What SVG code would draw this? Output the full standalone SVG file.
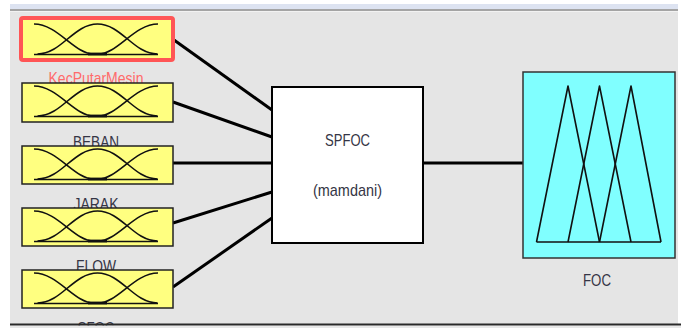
<svg xmlns="http://www.w3.org/2000/svg" xmlns:xlink="http://www.w3.org/1999/xlink" width="681" height="328" viewBox="0 0 681 328">
  <style>
    .panel { fill: #e5e5e5; }
    .inbox { fill: #ffff80; stroke: #222; stroke-width: 1.5; }
    .mf { fill: none; stroke: #111; stroke-width: 1.6; stroke-linejoin: round; }
    .wire { fill: none; stroke: #000; stroke-width: 3; stroke-linecap: butt; }
    .lbl { font-family: "Liberation Sans", Arial, sans-serif; font-size: 17px; fill: #353545; text-anchor: middle; }
    .sel { fill: #ff6b6b; }
  </style>
  <defs>
    <!-- three gaussian-like membership functions, relative to an input box's top-left corner -->
    <g id="mf3">
      <path class="mf" d="M12,3 C36,3 52,33 72,33"/>
      <path class="mf" d="M15.5,33 C39.5,33 51.5,3 75.5,3 C99.5,3 111.5,33 135.5,33"/>
      <path class="mf" d="M136,3 C112,3 96,33 76,33"/>
      <path class="mf" d="M12,33.5 H136"/>
      <path fill="none" stroke="#111" stroke-width="2.8" d="M66,33 H85"/>
    </g>
  </defs>

  <!-- window background -->
  <rect x="0" y="0" width="681" height="328" fill="#ffffff"/>
  <rect x="10" y="4" width="668" height="6" fill="#dde3f1"/>
  <rect x="10" y="9" width="668" height="2" fill="#a4a4a4"/>
  <rect class="panel" x="10" y="11.5" width="668" height="313"/>

  <!-- connectors -->
  <g id="connectors">
    <line class="wire" x1="174" y1="40" x2="272" y2="110"/>
    <line class="wire" x1="173" y1="102" x2="272" y2="137"/>
    <line class="wire" x1="173" y1="163" x2="272" y2="163"/>
    <line class="wire" x1="173" y1="223" x2="272" y2="192"/>
    <line class="wire" x1="173" y1="287" x2="272" y2="218"/>
    <line class="wire" x1="423" y1="163" x2="523" y2="163"/>
  </g>

  <!-- inputs -->
  <g id="input-KecPutarMesin">
    <rect x="21" y="18" width="152" height="42" rx="2" fill="#ffff80" stroke="#ff5555" stroke-width="4"/>
    <use xlink:href="#mf3" transform="translate(22,21)"/>
    <text class="lbl sel" x="96" y="83.5" textLength="95" lengthAdjust="spacingAndGlyphs">KecPutarMesin</text>
  </g>
  <g id="input-BEBAN">
    <rect class="inbox" x="22" y="83" width="151" height="39"/>
    <use xlink:href="#mf3" transform="translate(22,83)"/>
    <text class="lbl" x="96" y="148" textLength="46" lengthAdjust="spacingAndGlyphs">BEBAN</text>
  </g>
  <g id="input-JARAK">
    <rect class="inbox" x="22" y="146" width="151" height="38"/>
    <use xlink:href="#mf3" transform="translate(22,146)"/>
    <text class="lbl" x="96" y="210" textLength="45" lengthAdjust="spacingAndGlyphs">JARAK</text>
  </g>
  <g id="input-FLOW">
    <rect class="inbox" x="22" y="208" width="151" height="38"/>
    <use xlink:href="#mf3" transform="translate(22,208)"/>
    <text class="lbl" x="96" y="272" textLength="40" lengthAdjust="spacingAndGlyphs">FLOW</text>
  </g>
  <g id="input-SFOC">
    <rect class="inbox" x="22" y="270" width="151" height="38"/>
    <use xlink:href="#mf3" transform="translate(22,270)"/>
    <text class="lbl" x="96" y="334" textLength="37" lengthAdjust="spacingAndGlyphs">SFOC</text>
  </g>

  <!-- rule system -->
  <g id="system-SPFOC">
    <rect x="272" y="87" width="151" height="156" fill="#ffffff" stroke="#000" stroke-width="2"/>
    <text class="lbl" x="347.5" y="146" textLength="45" lengthAdjust="spacingAndGlyphs">SPFOC</text>
    <text class="lbl" x="347.5" y="196" textLength="69" lengthAdjust="spacingAndGlyphs">(mamdani)</text>
  </g>

  <!-- output -->
  <g id="output-FOC">
    <rect x="523" y="72" width="152" height="186" fill="#80ffff" stroke="#333" stroke-width="1.5"/>
    <polyline class="mf" points="536.5,242 568,86 599.5,242"/>
    <polyline class="mf" points="568,242 599.5,86 631,242"/>
    <polyline class="mf" points="599.5,242 631,86 661,242"/>
    <line class="mf" x1="536.5" y1="242" x2="661" y2="242"/>
    <text class="lbl" x="597" y="285.5" font-size="18" textLength="28" lengthAdjust="spacingAndGlyphs">FOC</text>
  </g>

  <!-- bottom edge of the panel -->
  <rect x="10" y="323.5" width="671" height="2.2" fill="#2a2a2a"/>
  <rect x="10" y="325.7" width="671" height="2.3" fill="#e8e8e8"/>
</svg>
